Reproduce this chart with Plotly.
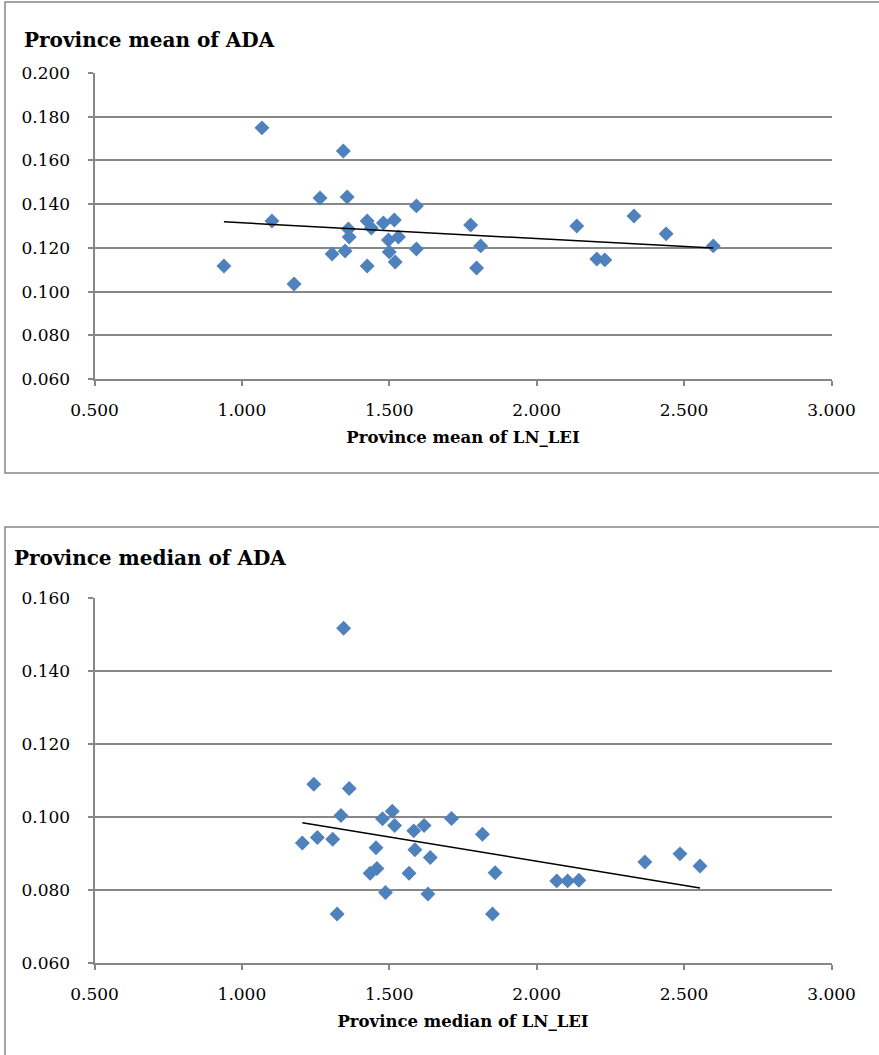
import numpy as np
import plotly.graph_objects as go

# ---- Data: top chart (province means) ----
mean_lnlei = [0.939, 1.068, 1.102, 1.177, 1.265, 1.306, 1.344, 1.357, 1.350, 1.361,
              1.364, 1.425, 1.425, 1.439, 1.480, 1.497, 1.500, 1.517, 1.520, 1.531,
              1.592, 1.592, 1.776, 1.796, 1.810, 2.136, 2.204, 2.231, 2.330, 2.439, 2.599]
mean_ada = [0.1117, 0.1749, 0.1323, 0.1035, 0.1428, 0.1172, 0.1643, 0.1433, 0.1186, 0.1286,
            0.1250, 0.1323, 0.1117, 0.1291, 0.1314, 0.1236, 0.1181, 0.1327, 0.1135, 0.1250,
            0.1392, 0.1195, 0.1305, 0.1108, 0.1209, 0.1300, 0.1149, 0.1145, 0.1346, 0.1264, 0.1209]

# ---- Data: bottom chart (province medians) ----
median_lnlei = [1.345, 1.244, 1.364, 1.336, 1.205, 1.256, 1.308, 1.477, 1.510, 1.518,
                1.455, 1.435, 1.458, 1.487, 1.567, 1.583, 1.618, 1.587, 1.639, 1.631,
                1.711, 1.816, 1.859, 1.323, 1.850, 2.068, 2.105, 2.143, 2.367, 2.486, 2.554]
median_ada = [0.1517, 0.1090, 0.1078, 0.1004, 0.0929, 0.0944, 0.0939, 0.0995, 0.1016, 0.0977,
              0.0916, 0.0846, 0.0859, 0.0793, 0.0846, 0.0962, 0.0977, 0.0910, 0.0889, 0.0789,
              0.0996, 0.0953, 0.0847, 0.0734, 0.0734, 0.0825, 0.0825, 0.0827, 0.0877, 0.0899, 0.0866]

titles = ["Province mean of ADA", "Province median of ADA"]
xtitles = ["Province mean of LN_LEI", "Province median of LN_LEI"]
yranges = [[0.06, 0.20], [0.06, 0.16]]
xrange_ = [0.5, 3.0]

W, H = 879, 1055
FONT = "DejaVu Serif"
GRID = "#878787"
MARK = "#4F81BD"

def py(px):
    return 1 - px / H

def px_(x):
    return x / W

fig = go.Figure()

def trend(xs, ys):
    xs = np.array(xs); ys = np.array(ys)
    b, a = np.polyfit(xs, ys, 1)
    xl = np.array([xs.min(), xs.max()])
    return xl, a + b * xl

for i, (xs, ys) in enumerate([(mean_lnlei, mean_ada), (median_lnlei, median_ada)]):
    xa = "x" if i == 0 else "x2"
    ya = "y" if i == 0 else "y2"
    fig.add_trace(go.Scatter(x=xs, y=ys, mode="markers", xaxis=xa, yaxis=ya,
                             marker=dict(symbol="diamond", size=11.5, color=MARK,
                                         line=dict(width=0)),
                             showlegend=False, hoverinfo="x+y"))
    xl, yl = trend(xs, ys)
    fig.add_trace(go.Scatter(x=xl, y=yl, mode="lines", xaxis=xa, yaxis=ya,
                             line=dict(color="black", width=1.5),
                             showlegend=False, hoverinfo="skip"))

xdom = [px_(94.5), px_(831.5)]
axis_common = dict(showline=True, linecolor=GRID, linewidth=2,
                   ticks="outside", tickcolor=GRID, ticklen=5, tickwidth=2,
                   tickfont=dict(family=FONT, size=17, color="black"),
                   tickformat=".3f", zeroline=False, fixedrange=True, automargin=False)
ttl_font = dict(family=FONT, size=16.5, color="black")

fig.update_layout(
    template="none",
    width=W, height=H, margin=dict(l=0, r=0, t=0, b=0, pad=0),
    paper_bgcolor="white", plot_bgcolor="white",
    xaxis=dict(domain=xdom, range=xrange_, dtick=0.5, tick0=0.5, anchor="y",
               showgrid=False, ticklabelstandoff=10,
               title=dict(text="<b>" + xtitles[0] + "</b>", font=ttl_font, standoff=12),
               **axis_common),
    yaxis=dict(domain=[py(379), py(73)], range=yranges[0], dtick=0.02, tick0=0.06,
               anchor="x", ticklabelstandoff=14, showgrid=True, gridcolor=GRID, gridwidth=2,
               **axis_common),
    xaxis2=dict(domain=xdom, range=xrange_, dtick=0.5, tick0=0.5, anchor="y2",
                showgrid=False, ticklabelstandoff=10,
                title=dict(text="<b>" + xtitles[1] + "</b>", font=ttl_font, standoff=12),
                **axis_common),
    yaxis2=dict(domain=[py(963), py(598)], range=yranges[1], dtick=0.02, tick0=0.06,
                anchor="x2", ticklabelstandoff=14, showgrid=True, gridcolor=GRID, gridwidth=2,
                **axis_common),
    annotations=[
        dict(text="<b>" + titles[0] + "</b>", x=px_(22), y=py(40), xref="paper", yref="paper",
             xanchor="left", yanchor="middle", showarrow=False,
             font=dict(family=FONT, size=20, color="black")),
        dict(text="<b>" + titles[1] + "</b>", x=px_(12), y=py(558), xref="paper", yref="paper",
             xanchor="left", yanchor="middle", showarrow=False,
             font=dict(family=FONT, size=20, color="black")),
    ],
    shapes=[
        dict(type="rect", xref="paper", yref="paper", x0=px_(5), x1=1.02, y0=py(473), y1=py(2),
             line=dict(color=GRID, width=1.5), fillcolor="rgba(0,0,0,0)", layer="below"),
        dict(type="rect", xref="paper", yref="paper", x0=px_(5), x1=1.02, y0=-0.02, y1=py(527),
             line=dict(color=GRID, width=1.5), fillcolor="rgba(0,0,0,0)", layer="below"),
    ],
)

fig.write_html("out.html")
